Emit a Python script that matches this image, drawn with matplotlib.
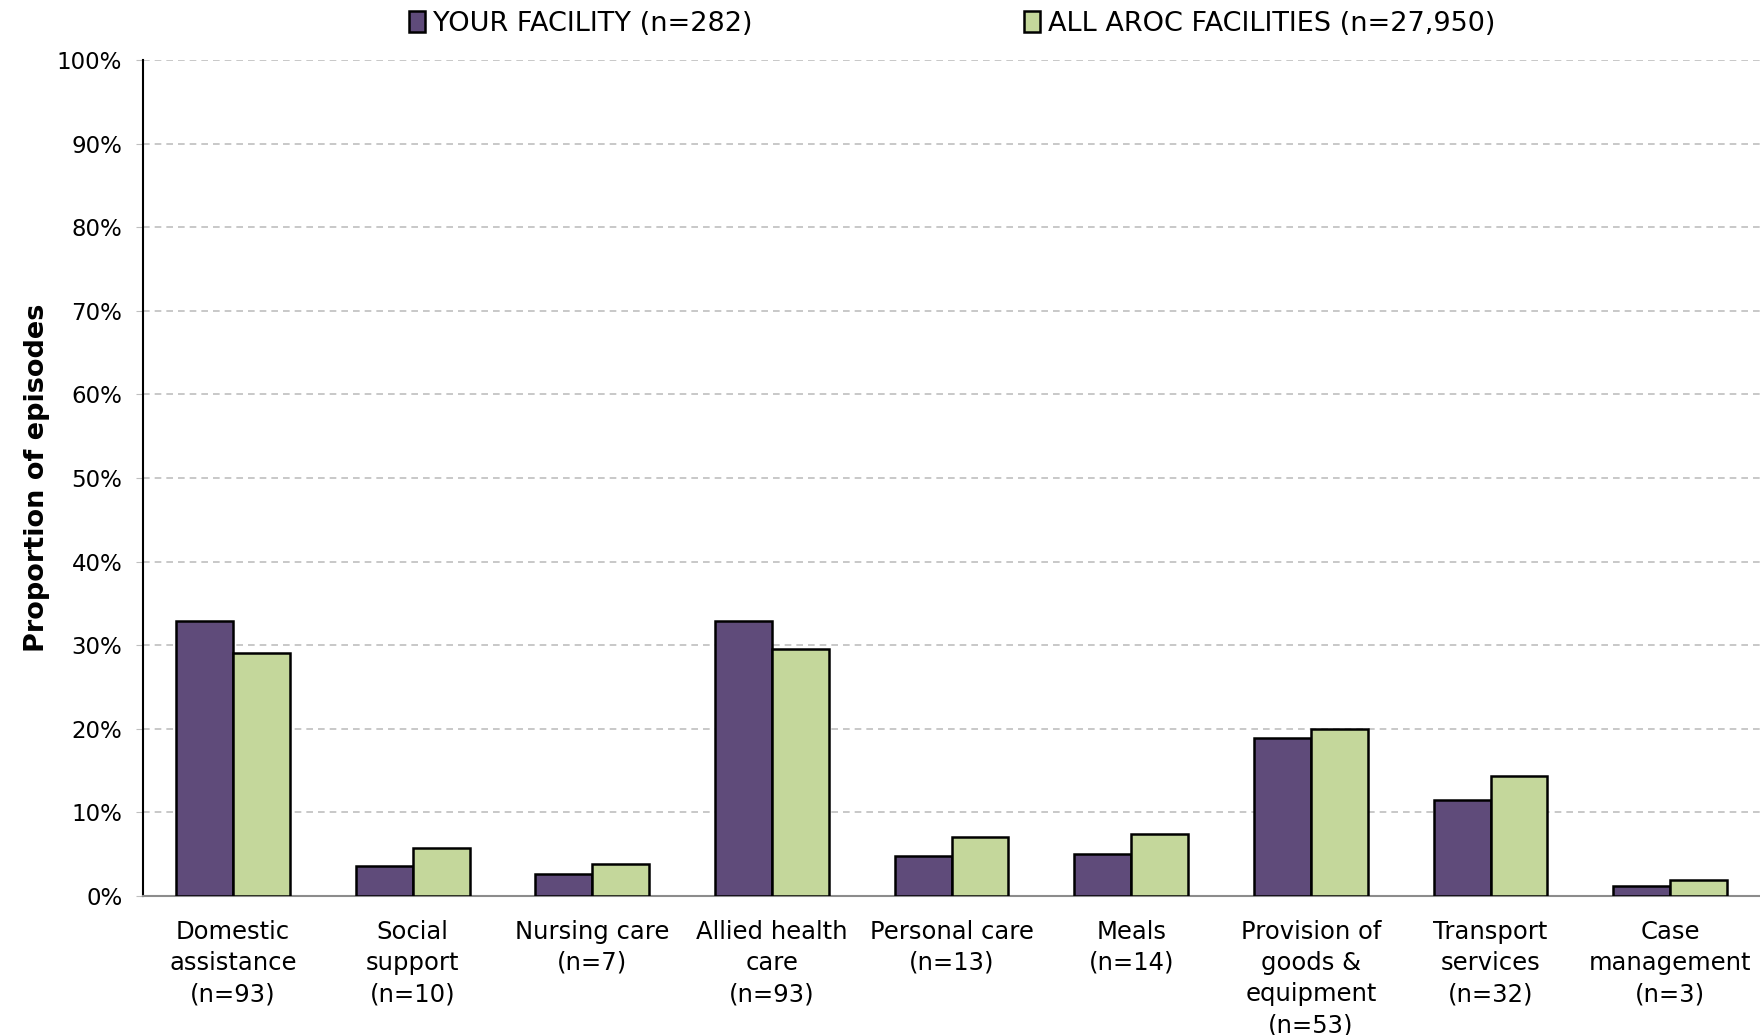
import matplotlib.pyplot as plt
import numpy as np
from matplotlib.ticker import FuncFormatter

categories = ["Domestic\nassistance\n(n=93)", "Social\nsupport\n(n=10)", "Nursing care\n(n=7)",
              "Allied health\ncare\n(n=93)", "Personal care\n(n=13)", "Meals\n(n=14)",
              "Provision of\ngoods &\nequipment\n(n=53)", "Transport\nservices\n(n=32)",
              "Case\nmanagement\n(n=3)"]
facility = [32.9, 3.6, 2.6, 32.9, 4.8, 5.0, 18.9, 11.5, 1.2]
all_aroc = [29.1, 5.7, 3.8, 29.6, 7.1, 7.4, 20.0, 14.3, 1.9]
labels = ["YOUR FACILITY (n=282)", "ALL AROC FACILITIES (n=27,950)"]

plt.rcParams['font.family'] = ['DejaVu Sans']

fig = plt.figure(figsize=(17.6, 10.35), dpi=100)
ax = fig.add_axes([0.0813, 0.1343, 0.9187, 0.8077])

x = np.arange(len(categories))
w = 0.317
ax.bar(x - w/2, facility, w, color="#5F4B7A", edgecolor="black", linewidth=1.8, label=labels[0], zorder=3)
ax.bar(x + w/2, all_aroc, w, color="#C4D79B", edgecolor="black", linewidth=1.8, label=labels[1], zorder=3)

ax.set_xlim(-0.5, len(categories) - 0.5)
ax.set_ylim(0, 100)
ax.set_yticks(np.arange(0, 101, 10))
ax.yaxis.set_major_formatter(FuncFormatter(lambda v, p: f"{int(v)}%"))
ax.yaxis.grid(True, linestyle=(0, (4, 3)), color="#BFBFBF", linewidth=1.2, zorder=0)

ax.set_xticks(x)
ax.set_xticklabels(categories, fontsize=17.5, linespacing=1.38)
ax.tick_params(axis='x', length=0, pad=17)
ax.tick_params(axis='y', length=5, color="#BFBFBF", labelsize=16.5, pad=10)

for s in ["top", "right"]:
    ax.spines[s].set_visible(False)
ax.spines["left"].set_color("black")
ax.spines["left"].set_linewidth(1.5)
ax.spines["bottom"].set_color("#8C8C8C")
ax.spines["bottom"].set_linewidth(1.5)

ax.set_ylabel("Proportion of episodes", fontsize=19.5, fontweight="bold", labelpad=5)

fig.legend(loc="center", bbox_to_anchor=(0.541, 0.977), ncol=2, frameon=False,
           handlelength=0.6, handleheight=0.8, handletextpad=0.3,
           columnspacing=10.0, prop={'family': 'DejaVu Sans', 'size': 19.5})

fig.savefig("out.png", dpi=100)
